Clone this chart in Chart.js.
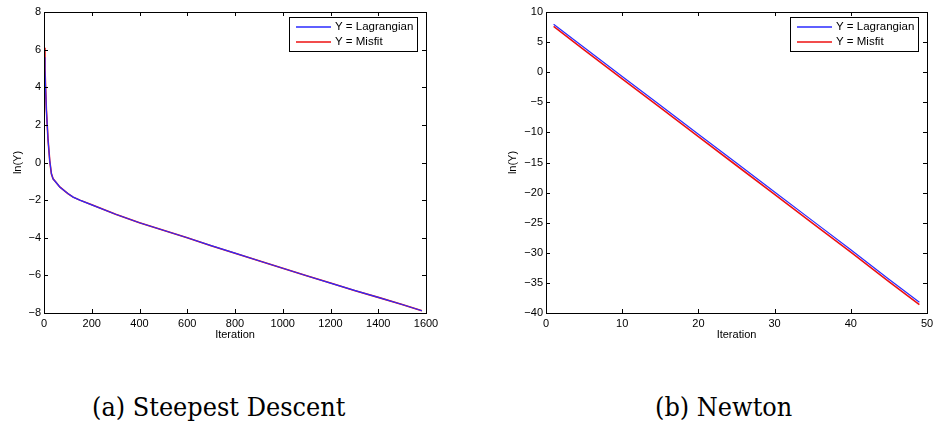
<!DOCTYPE html>
<html>
<head>
<meta charset="utf-8">
<script src="https://cdn.jsdelivr.net/npm/chart.js@4/dist/chart.umd.min.js"></script>
<style>
body { margin: 0; background: #fff; width: 933px; height: 427px; position: relative; overflow: hidden; }
canvas { position: absolute; top: 0; }
#sd { left: 0; }
#nw { left: 470px; }
.cap { position: absolute; top: 392px; font-family: "DejaVu Serif", "Liberation Serif", "Times New Roman", serif; font-size: 26px; line-height: 30px; white-space: nowrap; color: #000; transform: scaleX(0.925); transform-origin: 0 0; }
</style>
</head>
<body>
<canvas id="sd" width="460" height="345"></canvas>
<canvas id="nw" width="463" height="345"></canvas>
<div class="cap" style="left:92px">(a) Steepest Descent</div>
<div class="cap" style="left:655px">(b) Newton</div>
<script>
// steepest descent run
const sdIter = [1, 4, 10, 17, 24, 31, 38, 50, 66, 100, 122, 150, 200, 300, 400, 500, 600, 700, 800, 900, 1000, 1100, 1200, 1300, 1400, 1500, 1583];
const sdLagrangian = [5.6, 4.9, 2.8, 1.2, 0.1, -0.6, -0.87, -1.05, -1.3, -1.65, -1.84, -2.0, -2.25, -2.75, -3.2, -3.6, -4.0, -4.42, -4.82, -5.22, -5.62, -6.02, -6.41, -6.8, -7.17, -7.55, -7.88];
const sdMisfit = [6.1, 5.0, 2.8, 1.2, 0.1, -0.6, -0.87, -1.05, -1.3, -1.65, -1.84, -2.0, -2.25, -2.75, -3.2, -3.6, -4.0, -4.42, -4.82, -5.22, -5.62, -6.02, -6.41, -6.8, -7.17, -7.55, -7.88];

// newton run
const nwIter = [1, 5, 10, 15, 20, 25, 30, 35, 40, 45, 49];
const nwLagrangian = [7.95, 4.1, -0.7, -5.5, -10.3, -15.1, -19.9, -24.7, -29.5, -34.4, -38.2];
const nwMisfit = [7.6, 3.7, -1.1, -5.9, -10.7, -15.5, -20.3, -25.1, -29.9, -34.8, -38.6];

const seriesNames = ['Y = Lagrangian', 'Y = Misfit'];
const seriesColors = ['#2a2aff', '#ee1111'];

const tickFont = { family: '"Liberation Sans", Arial, sans-serif', size: 11 };

function pts(xs, ys) {
    return xs.map((x, i) => ({ x: x, y: ys[i] }));
}

function minus(v) {
    return String(v).replace('-', '\u2212');
}

// matlab style box, inward ticks and legend
const frame = {
    id: 'frame',
    afterDraw(chart) {
        const { ctx, chartArea: a, scales: { x, y } } = chart;
        ctx.save();
        ctx.strokeStyle = '#000';
        ctx.lineWidth = 1;
        ctx.beginPath();
        x.ticks.forEach((t) => {
            const px = Math.round(x.getPixelForValue(t.value)) + 0.5;
            ctx.moveTo(px, a.bottom); ctx.lineTo(px, a.bottom - 4);
            ctx.moveTo(px, a.top); ctx.lineTo(px, a.top + 4);
        });
        y.ticks.forEach((t) => {
            const py = Math.round(y.getPixelForValue(t.value)) + 0.5;
            ctx.moveTo(a.left, py); ctx.lineTo(a.left + 4, py);
            ctx.moveTo(a.right, py); ctx.lineTo(a.right - 4, py);
        });
        ctx.stroke();
        ctx.strokeRect(Math.round(a.left) + 0.5, Math.round(a.top) + 0.5, Math.round(a.right - a.left), Math.round(a.bottom - a.top));

        const bx = Math.round(a.right) - 137, by = Math.round(a.top) + 5;
        ctx.fillStyle = '#fff';
        ctx.fillRect(bx, by, 128, 34);
        ctx.strokeRect(bx + 0.5, by + 0.5, 128, 34);
        ctx.font = '11.5px "Liberation Sans", Arial, sans-serif';
        ctx.textBaseline = 'middle';
        seriesNames.forEach((name, i) => {
            const ly = by + 10 + i * 15;
            ctx.strokeStyle = seriesColors[i];
            ctx.lineWidth = 1.3;
            ctx.beginPath();
            ctx.moveTo(bx + 7, ly); ctx.lineTo(bx + 42, ly);
            ctx.stroke();
            ctx.fillStyle = '#000';
            ctx.fillText(name, bx + 46, ly);
        });
        ctx.restore();
    }
};

function makeChart(id, xs, lag, mis, xr, yr, yWidth, rightPad, yTitlePad) {
    return new Chart(document.getElementById(id), {
        type: 'line',
        data: {
            datasets: [
                { label: seriesNames[0], data: pts(xs, lag), borderColor: seriesColors[0], borderWidth: 1.2, pointRadius: 0, tension: 0 },
                { label: seriesNames[1], data: pts(xs, mis), borderColor: seriesColors[1], borderWidth: 1.6, pointRadius: 0, tension: 0 }
            ]
        },
        options: {
            responsive: false,
            animation: false,
            events: [],
            layout: { padding: { top: 12, right: rightPad, left: 0, bottom: 0 } },
            plugins: { legend: { display: false }, tooltip: { enabled: false } },
            scales: {
                x: {
                    type: 'linear',
                    min: xr[0], max: xr[1],
                    grid: { display: false, drawTicks: false },
                    border: { display: false },
                    ticks: { stepSize: xr[2], autoSkip: false, maxRotation: 0, padding: 4, color: '#000', font: tickFont, callback: minus },
                    title: { display: true, text: 'Iteration', color: '#000', font: tickFont, padding: { top: 0, bottom: 3 } },
                    afterFit: (s) => { s.height = 345 - 313; s.paddingLeft = 0; s.paddingRight = 0; }
                },
                y: {
                    min: yr[0], max: yr[1],
                    grid: { display: false, drawTicks: false },
                    border: { display: false },
                    ticks: { stepSize: yr[2], autoSkip: false, padding: 3, color: '#000', font: tickFont, callback: minus },
                    title: { display: true, text: 'ln(Y)', color: '#000', font: tickFont, padding: { top: yTitlePad, bottom: 0 } },
                    afterFit: (s) => { s.width = yWidth; s.paddingTop = 0; s.paddingBottom = 0; }
                }
            }
        },
        plugins: [frame]
    });
}

makeChart('sd', sdIter, sdLagrangian, sdMisfit, [0, 1600, 200], [-8, 8, 2], 44, 460 - 426, 11);
makeChart('nw', nwIter, nwLagrangian, nwMisfit, [0, 50, 10], [-40, 10, 5], 76, 463 - 457, 36);
</script>
</body>
</html>
